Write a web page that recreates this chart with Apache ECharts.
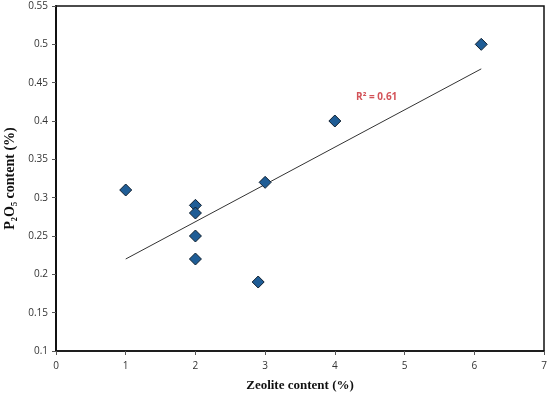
<!DOCTYPE html>
<html><head><meta charset="utf-8">
<script src="https://cdn.jsdelivr.net/npm/echarts@6/dist/echarts.min.js"></script>
<style>html,body{margin:0;padding:0;background:#fff}#c{width:550px;height:396px}</style>
</head><body><div id="c"></div>
<script>
const zeolite = [1, 2, 2, 2, 2, 2.9, 3, 4, 6.1];
const p2o5 = [0.31, 0.29, 0.28, 0.25, 0.22, 0.19, 0.32, 0.40, 0.50];
const trendX = [1, 6.1];
const trendY = [0.22, 0.468];
const r2Label = 'R² = 0.61';
const r2Pos = [4.6, 0.431];

const chart = echarts.init(document.getElementById('c'));
const lab = {fontFamily: 'Open Sans, sans-serif', fontSize: 10, color: '#333'};
chart.setOption({
  animation: false,
  grid: {left: 56, right: 6, top: 6, bottom: 45, show: true, borderColor: '#111', borderWidth: 1.5, outerBoundsMode: 'none', containLabel: false},
  xAxis: {
    type: 'value', min: 0, max: 7, interval: 1,
    name: 'Zeolite content (%)', nameLocation: 'middle', nameGap: 28,
    nameTextStyle: {fontFamily: 'Liberation Serif', fontWeight: 'bold', fontSize: 13, color: '#111'},
    axisLine: {show: true, onZero: false, lineStyle: {color: '#111', width: 1.5}},
    axisTick: {show: true, length: 4, lineStyle: {color: '#555'}},
    axisLabel: Object.assign({margin: 10}, lab),
    splitLine: {show: false}
  },
  yAxis: {
    type: 'value', min: 0.1, max: 0.55, interval: 0.05,
    name: 'P₂O₅ content (%)', nameLocation: 'middle', nameGap: 33,
    nameTextStyle: {fontFamily: 'Liberation Serif', fontWeight: 'bold', fontSize: 14, color: '#111'},
    axisLine: {show: true, onZero: false, lineStyle: {color: '#111', width: 2}},
    axisTick: {show: true, length: 4, lineStyle: {color: '#555'}},
    axisLabel: Object.assign({margin: 8, formatter: v => String(+v.toFixed(2))}, lab),
    splitLine: {show: false}
  },
  series: [
    {
      type: 'line', data: trendX.map((x, i) => [x, trendY[i]]),
      symbol: 'none', lineStyle: {color: '#333', width: 1}, z: 1
    },
    {
      type: 'scatter', data: zeolite.map((x, i) => [x, p2o5[i]]),
      symbol: 'diamond', symbolSize: [12, 12],
      itemStyle: {color: '#1f5d96', borderColor: '#10202f', borderWidth: 1, opacity: 1}, z: 2
    },
    {
      type: 'scatter', data: [r2Pos], symbolSize: 0,
      label: {show: true, position: 'inside', formatter: r2Label, fontFamily: 'Open Sans, sans-serif', fontWeight: 'bold', fontSize: 10, color: '#c8272e'}
    }
  ]
});
</script></body></html>
